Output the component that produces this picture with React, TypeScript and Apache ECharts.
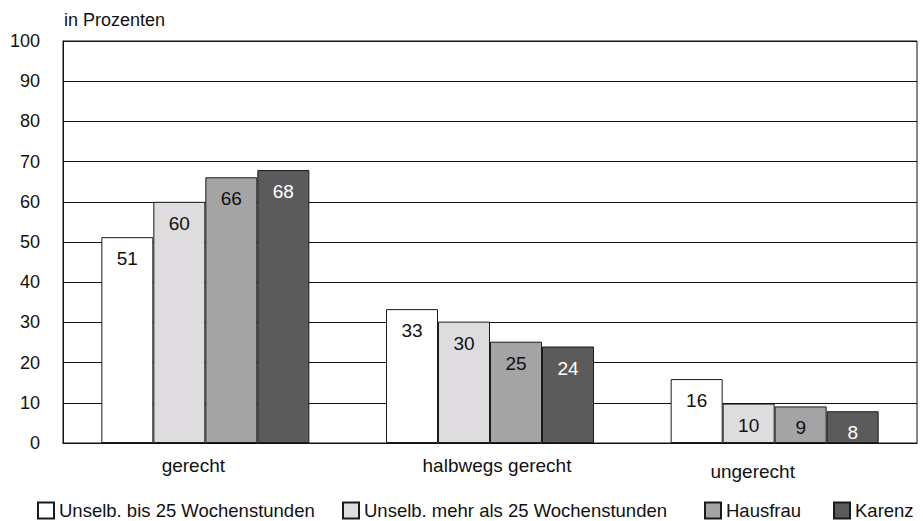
import React, { useEffect, useRef } from "react";
import * as echarts from "echarts";

const categories = ["gerecht", "halbwegs gerecht", "ungerecht"];
const seriesNames = [
  "Unselb. bis 25 Wochenstunden",
  "Unselb. mehr als 25 Wochenstunden",
  "Hausfrau",
  "Karenz",
];
const bis25 = [51.2, 33.3, 15.9];
const mehr25 = [60.0, 30.2, 9.8];
const hausfrau = [66.1, 25.2, 9.1];
const karenz = [67.9, 24.0, 7.9];
const yTicks = [0, 10, 20, 30, 40, 50, 60, 70, 80, 90, 100];

const seriesValues = [bis25, mehr25, hausfrau, karenz];
const barColors = ["#ffffff", "#dedcde", "#a5a4a5", "#5b5b5b"];
const labelColors = ["#111111", "#111111", "#111111", "#ffffff"];
const legendLefts = [37, 342, 704, 833];

const FONT = "'Liberation Sans', Arial, sans-serif";

export default function App() {
  const ref = useRef<HTMLDivElement>(null);

  useEffect(() => {
    if (!ref.current) return;
    const chart = echarts.init(ref.current, undefined, { renderer: "svg" });

    const option: any = {
      animation: false,
      backgroundColor: "#ffffff",
      textStyle: { fontFamily: FONT },
      title: {
        text: "in Prozenten",
        left: 64,
        top: 11,
        padding: 0,
        textStyle: {
          fontFamily: FONT,
          fontSize: 18,
          fontWeight: "normal",
          color: "#111111",
        },
      },
      grid: {
        left: 63,
        right: 6,
        top: 41,
        bottom: 78,
        show: true,
        borderColor: "#111111",
        borderWidth: 1,
        backgroundColor: "transparent",
      },
      legend: seriesNames.map((name, i) => ({
        data: [name],
        left: legendLefts[i],
        top: 501,
        padding: 0,
        itemWidth: 16,
        itemHeight: 16,
        icon: "rect",
        selectedMode: false,
        textStyle: { fontFamily: FONT, fontSize: 18.5, lineHeight: 18, color: "#111111" },
      })),
      xAxis: {
        type: "category",
        data: categories,
        axisTick: { show: false },
        axisLine: { show: true, lineStyle: { color: "#111111", width: 1 } },
        axisLabel: {
          margin: 13,
          fontFamily: FONT,
          fontSize: 19,
          color: "#111111",
          formatter: (v: string) => {
            const idx = categories.indexOf(v);
            return `{c${idx}|${v}}`;
          },
          rich: {
            c0: { fontFamily: FONT, fontSize: 19, color: "#111111", padding: [0, 24, 0, 0] },
            c1: { fontFamily: FONT, fontSize: 19, color: "#111111", padding: [0, 0, 0, 14] },
            c2: { fontFamily: FONT, fontSize: 19, color: "#111111", padding: [6, 44, 0, 0] },
          },
        },
      },
      yAxis: {
        type: "value",
        min: yTicks[0],
        max: yTicks[yTicks.length - 1],
        interval: 10,
        axisLine: { show: true, lineStyle: { color: "#111111", width: 1 } },
        axisTick: { show: false },
        axisLabel: {
          margin: 23,
          fontFamily: FONT,
          fontSize: 18,
          color: "#111111",
        },
        splitLine: { show: true, lineStyle: { color: "#111111", width: 1 } },
      },
      series: seriesNames.map((name, i) => ({
        name,
        type: "bar",
        data: seriesValues[i],
        barWidth: 52,
        barGap: "0%",
        itemStyle: {
          color: barColors[i],
          borderColor: "#1a1a1a",
          borderWidth: 1,
        },
        label: {
          show: true,
          position: "insideTop",
          distance: 12,
          fontFamily: FONT,
          fontSize: 19,
          color: labelColors[i],
          formatter: (p: any) => String(Math.round(p.value)),
        },
      })),
    };

    chart.setOption(option);
    return () => chart.dispose();
  }, []);

  return (
    <div
      ref={ref}
      style={{ position: "fixed", left: 0, top: 0, width: 923, height: 521 }}
    />
  );
}
